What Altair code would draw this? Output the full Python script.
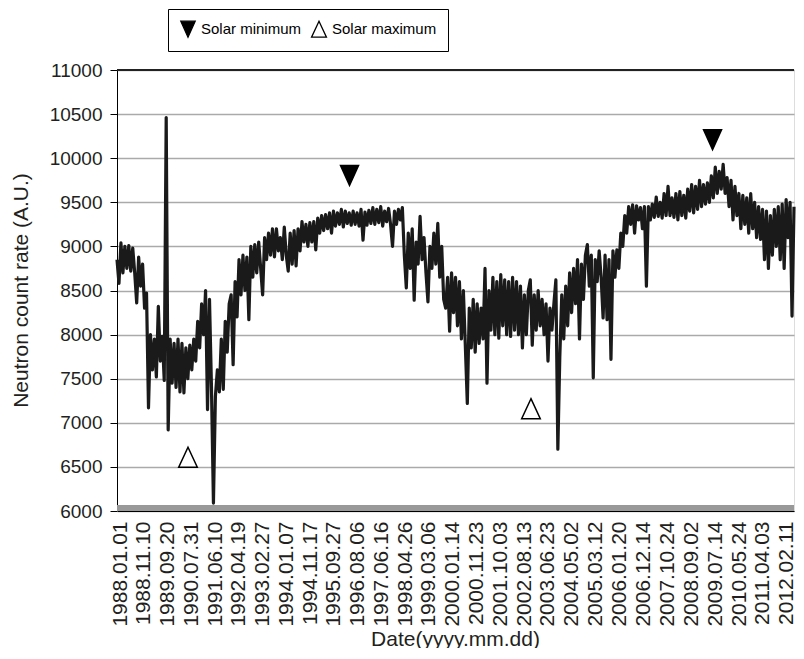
import altair as alt
import pandas as pd

# ---- daily neutron count rate (one sample every 26 days) ----
vals_1988_1991 = [8850, 8580, 9040, 8700, 9000, 8750, 9010, 8720, 8980, 8700,
                  8360, 8880, 8550, 8800, 8300, 8470, 7170, 8000, 7600, 7950,
                  7520, 8320, 7700, 7980, 7480, 10460, 6920, 7950, 7450, 7900,
                  7400, 7950, 7350, 7900, 7340, 7850, 7500, 7880, 7600, 7950,
                  7700, 8150, 7850, 8350, 8000, 8500, 7150, 8400, 7400, 6090]
vals_1991_1995 = [7300, 7600, 7350, 7950, 7380, 8150, 7800, 8350, 8450, 7660,
                  8600, 8200, 8850, 8450, 8900, 8500, 8880, 8170, 9000, 8650,
                  9020, 8700, 9050, 8750, 8450, 9100, 8850, 9150, 8900, 9200,
                  8880, 9200, 8950, 9100, 8850, 9220, 8900, 8720, 9150, 8800,
                  9180, 8780, 9200, 8950, 9280, 9050, 9250, 9000, 9270, 9050,
                  9280, 8960, 9320, 9150, 9350, 9180, 9360, 9200, 9380, 9150]
vals_1995_1999 = [9400, 9230, 9380, 9250, 9420, 9220, 9400, 9260, 9380, 9240,
                  9400, 9250, 9380, 9230, 9420, 9070, 9390, 9240, 9410, 9260,
                  9440, 9250, 9420, 9270, 9450, 9230, 9400, 9280, 9430, 9250,
                  9000, 9400, 9250, 9420, 9300, 9440, 8900, 8530, 9150, 8750,
                  9200, 8390, 9050, 8800, 9340, 8850, 9100, 8700, 8370, 9000]
vals_1999_2004 = [8750, 9150, 8800, 9260, 8650, 9000, 8400, 8300, 8650, 8040,
                  8700, 8250, 8650, 8100, 8600, 7950, 8500, 7870, 7220, 8300,
                  7850, 8400, 7800, 8350, 7900, 8300, 7950, 8750, 7450, 8500,
                  8050, 8650, 8000, 8600, 7960, 8680, 8100, 8620, 8000, 8600,
                  7980, 8650, 8050, 8600, 8000, 8550, 7850, 8450, 8000, 8500,
                  8620, 7880, 8450, 8050, 8500, 8100, 8400, 8000, 8350, 7700,
                  8300, 8050, 8350, 8620, 6700, 7750, 8450, 7950, 8550, 8100]
vals_2004_2008 = [8700, 8250, 8750, 8350, 8850, 7950, 8800, 8400, 8900, 9020,
                  8550, 8900, 7510, 8850, 8600, 8950, 8650, 8190, 8900, 8170,
                  8850, 7720, 8950, 8650, 8960, 8750, 9150, 9000, 9350, 9150,
                  9450, 9250, 9470, 9150, 9460, 9300, 9440, 9200, 9450, 8550,
                  9450, 9300, 9480, 9330, 9560, 9340, 9500, 9320, 9600, 9350]
vals_2008_2012 = [9680, 9350, 9550, 9330, 9600, 9300, 9620, 9350, 9580, 9320,
                  9650, 9400, 9700, 9380, 9680, 9420, 9750, 9450, 9700, 9480,
                  9720, 9500, 9800, 9550, 9900, 9600, 9850, 9650, 9930, 9600,
                  9780, 9450, 9750, 9300, 9680, 9350, 9600, 9200, 9580, 9250,
                  9550, 9150, 9600, 9200, 9500, 9100, 9450, 9080, 9420, 8850,
                  9400, 8750, 9350, 8900, 9420, 9000, 9450, 8850, 9480, 8750,
                  9530, 9100, 9500, 8210, 9450]

rates = (vals_1988_1991 + vals_1991_1995 + vals_1995_1999 +
         vals_1999_2004 + vals_2004_2008 + vals_2008_2012)
dates = pd.date_range("1988-01-01", periods=len(rates), freq="26D")
series = pd.DataFrame({"date": dates.strftime("%Y-%m-%d"), "rate": rates})

# ---- solar markers ----
marker_types = ["Solar minimum", "Solar minimum", "Solar maximum", "Solar maximum"]
marker_dates = ["1996-05-30", "2009-07-17", "1990-07-27", "2002-12-22"]
marker_values = [9805, 10210, 6610, 7160]
markers = pd.DataFrame({"type": marker_types, "date": marker_dates, "rate": marker_values})

# ---- axis tick labels ----
tick_labels = ["1988.01.01", "1988.11.10", "1989.09.20", "1990.07.31", "1991.06.10",
               "1992.04.19", "1993.02.27", "1994.01.07", "1994.11.17", "1995.09.27",
               "1996.08.06", "1997.06.16", "1998.04.26", "1999.03.06", "2000.01.14",
               "2000.11.23", "2001.10.03", "2002.08.13", "2003.06.23", "2004.05.02",
               "2005.03.12", "2006.01.20", "2006.12.14", "2007.10.24", "2008.09.02",
               "2009.07.14", "2010.05.24", "2011.04.03", "2012.02.11"]
y_ticks = [6000, 6500, 7000, 7500, 8000, 8500, 9000, 9500, 10000, 10500, 11000]


def to_ms(s):
    return int(pd.Timestamp(s.replace(".", "-")).value // 10**6)


tick_ms = [to_ms(s) for s in tick_labels]
x_domain = [to_ms("1988-01-01"), to_ms(series["date"].iloc[-1])]

FONT = "Liberation Sans, Arial, sans-serif"
INK = "#231f20"

x_axis = alt.Axis(
    values=tick_ms,
    tickCount=len(tick_ms),
    labelExpr="utcFormat(datum.value, '%Y.%m.%d')",
    labelAngle=270,
    labelFont=FONT,
    labelFontSize=21,
    labelColor=INK,
    labelOverlap=False,
    labelBound=False,
    labelFlush=False,
    labelPadding=10,
    labelOffset=3,
    ticks=False,
    grid=False,
    domainColor="black",
    domainWidth=1,
    zindex=1,
    title="Date(yyyy.mm.dd)",
    titleFont=FONT,
    titleFontSize=21,
    titleFontWeight="normal",
    titleColor=INK,
    titleX=338,
    titleY=134,
    titleAlign="center",
    titleBaseline="alphabetic",
)
x_scale = alt.Scale(type="utc", domain=x_domain, nice=False)

y_axis = alt.Axis(
    values=y_ticks,
    format="d",
    labelFont=FONT,
    labelFontSize=19,
    labelColor=INK,
    labelPadding=8,
    tickSize=7,
    tickColor="black",
    domainColor="black",
    grid=True,
    gridColor="#aaaaaa",
    gridWidth=1.5,
    title="Neutron count rate (A.U.)",
    titleFont=FONT,
    titleFontSize=21,
    titleFontWeight="normal",
    titleColor=INK,
    titleAngle=270,
    titleX=-90,
    titleY=220,
    titleAlign="center",
    titleBaseline="alphabetic",
)
y_scale = alt.Scale(domain=[6000, 11000], nice=False, zero=False)

line = alt.Chart(series).mark_line(
    color="#1a1a1a", strokeWidth=3.2, strokeJoin="round"
).encode(
    x=alt.X("date:T", scale=x_scale, axis=x_axis),
    y=alt.Y("rate:Q", scale=y_scale, axis=y_axis),
)

band = alt.Chart(series).mark_rule(color="#999999", strokeWidth=6).encode(
    y=alt.datum(6030)
)
top_rule = alt.Chart(series).mark_rule(color="#222222", strokeWidth=1).encode(
    y=alt.datum(11000)
)

down_path = "M-0.9,-1L0.9,-1L0,1Z"
up_path = "M0,-1L0.93,1L-0.93,1Z"
legend = alt.Legend(
    title=None,
    orient="none",
    legendX=51,
    legendY=-61,
    direction="horizontal",
    strokeColor="black",
    fillColor="white",
    padding=11,
    labelFont=FONT,
    labelFontSize=15,
    labelColor="black",
    labelOffset=4,
    columnPadding=6,
    symbolSize=256,
    symbolStrokeWidth=1.3,
    symbolOpacity=1,
)
type_domain = ["Solar minimum", "Solar maximum"]
points = alt.Chart(markers).mark_point(
    filled=True, strokeWidth=1.5, opacity=1, size=400
).encode(
    x=alt.X("date:T", scale=x_scale, axis=x_axis),
    y=alt.Y("rate:Q", scale=y_scale, axis=y_axis),
    shape=alt.Shape("type:N", scale=alt.Scale(domain=type_domain, range=[down_path, up_path]),
                    legend=legend),
    fill=alt.Fill("type:N", scale=alt.Scale(domain=type_domain, range=["black", "white"]),
                  legend=legend),
    stroke=alt.Stroke("type:N", scale=alt.Scale(domain=type_domain, range=["black", "black"]),
                      legend=legend),
)

chart = (
    alt.layer(band, line, top_rule, points)
    .properties(
        width=677,
        height=441,
        autosize="none",
        padding={"left": 109, "top": 62, "right": 2, "bottom": 137},
        background="white",
    )
    .configure_view(stroke=None)
    .configure_legend(strokeWidth=1.5)
    .configure_axis(labelOverlap=False)
    .configure_axisX(labelOverlap=False)
    .configure(font=FONT)
)

chart.save("out.html", embed_options={"renderer": "svg", "actions": False})
